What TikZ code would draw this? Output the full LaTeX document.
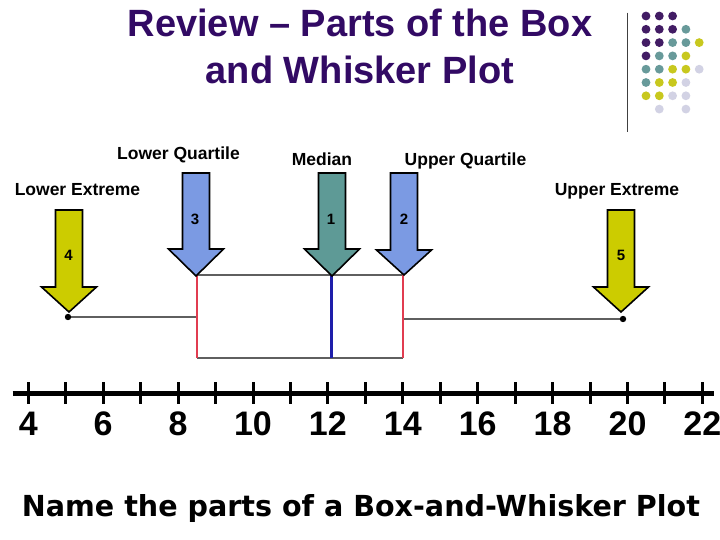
\documentclass[tikz,border=0pt]{standalone}
\usepackage{fontspec}
\setmainfont{Liberation Sans}
\newfontfamily\dvfont{DejaVu Sans}
\usepackage{graphicx}
\definecolor{titlepurple}{RGB}{50,10,100}
\definecolor{dotP}{RGB}{66,28,100}
\definecolor{dotT}{RGB}{104,154,154}
\definecolor{dotY}{RGB}{200,200,30}
\definecolor{dotL}{RGB}{210,210,228}
\definecolor{arrY}{RGB}{204,204,0}
\definecolor{arrB}{RGB}{123,154,227}
\definecolor{arrT}{RGB}{94,154,150}
\definecolor{qred}{RGB}{225,60,80}
\definecolor{mblue}{RGB}{30,30,170}
\definecolor{wgray}{RGB}{95,95,95}
\newcommand{\bArrow}[5]{%
  \filldraw[arrowline, fill=#5] (#1-13.5,#2) -- (#1+13.5,#2) -- (#1+13.5,#3) -- (#1+27.5,#3)
    -- (#1,#4) -- (#1-27.5,#3) -- (#1-13.5,#3) -- cycle;}
\begin{document}
\begin{tikzpicture}[x=1pt,y=-1pt,
  arrowline/.style={draw=black, line width=1.6pt, line join=miter},
  lbl/.style={anchor=base, font=\bfseries\fontsize{17.5}{20}\selectfont, inner sep=0pt},
  num/.style={anchor=base, font=\bfseries\fontsize{15}{18}\selectfont, inner sep=0pt},
  axisnum/.style={anchor=base, font=\bfseries\fontsize{34}{38}\selectfont, inner sep=0pt},
  title/.style={anchor=base, font=\bfseries\fontsize{38}{46}\selectfont, text=titlepurple, inner sep=0pt},
  boxline/.style={wgray, line width=2pt},
  qline/.style={qred, line width=2.4pt},
  mline/.style={mblue, line width=3pt},
  dot/.style={circle, inner sep=0pt, minimum size=8.8pt}
]
\useasboundingbox (0,0) rectangle (720,540);
\fill[white] (0,0) rectangle (720,540);

% title
\node[title] (t1) at (360,36.7) {Review – Parts of the Box};
\node[title] (t2) at (360,83.3) {and Whisker Plot};

% decoration: vertical line and dots
\draw[black!75, line width=1pt] (627.3,12.7) -- (627.3,131.7);
\foreach \r/\row in {0/{P,P,P}, 1/{P,P,P,T}, 2/{P,P,T,T,Y}, 3/{P,T,T,Y}, 4/{T,T,Y,Y,L}, 5/{T,Y,Y,L}, 6/{Y,Y,L,L}, 7/{N,L,N,L}}{
  \foreach \c [count=\k from 0] in \row {
    \if\c N\else
      \node[dot, fill=dot\c] (d\r\k) at (646+13.3*\k, 16+13.3*\r) {};
    \fi
  }
}

% box plot
\draw[boxline] (197,275) -- (403,275);
\draw[boxline] (197,358) -- (403,358);
\draw[boxline] (68,317) -- (197,317);
\draw[boxline] (403,319) -- (623,319);
\draw[qline] (197,275) -- (197,358);
\draw[qline] (403,275) -- (403,358);
\draw[mline] (331,275) -- (331,358);
\fill[black] (68,317) circle (3.2);
\fill[black] (623,319) circle (3.2);

% arrows
\bArrow{69}{210}{287}{312}{arrY}
\bArrow{196}{173}{249}{276}{arrB}
\bArrow{332}{173}{249}{276}{arrT}
\bArrow{404}{173}{250}{275}{arrB}
\bArrow{621}{210}{287}{312}{arrY}

\node[num] (n4) at (68.5,260.5) {4};
\node[num] (n3) at (195,224.5) {3};
\node[num] (n1) at (331,224.5) {1};
\node[num] (n2) at (404,224.5) {2};
\node[num] (n5) at (621,260.5) {5};

% labels
\node[lbl] (lq) at (178.5,160) {Lower Quartile};
\node[lbl] (md) at (322,166) {Median};
\node[lbl] (uq) at (465.5,166) {Upper Quartile};
\node[lbl] (le) at (77.5,195.7) {Lower Extreme};
\node[lbl] (ue) at (617,196) {Upper Extreme};

% number line
\draw[black, line width=4.5pt] (12.5,393.3) -- (714,393.3);
\foreach \v in {4,...,22}{
  \draw[black, line width=3pt] ({28.3+(\v-4)*37.45},382) -- ({28.3+(\v-4)*37.45},404);
}
\foreach \v in {4,6,...,22}{
  \node[axisnum] (a\v) at ({28.3+(\v-4)*37.45},435) {\v};
}

% bottom text
\node[anchor=base, inner sep=0pt] (bt) at (361,516) {\resizebox{678pt}{22pt}{\dvfont\bfseries Name the parts of a Box-and-Whisker Plot}};
\end{tikzpicture}
\end{document}
